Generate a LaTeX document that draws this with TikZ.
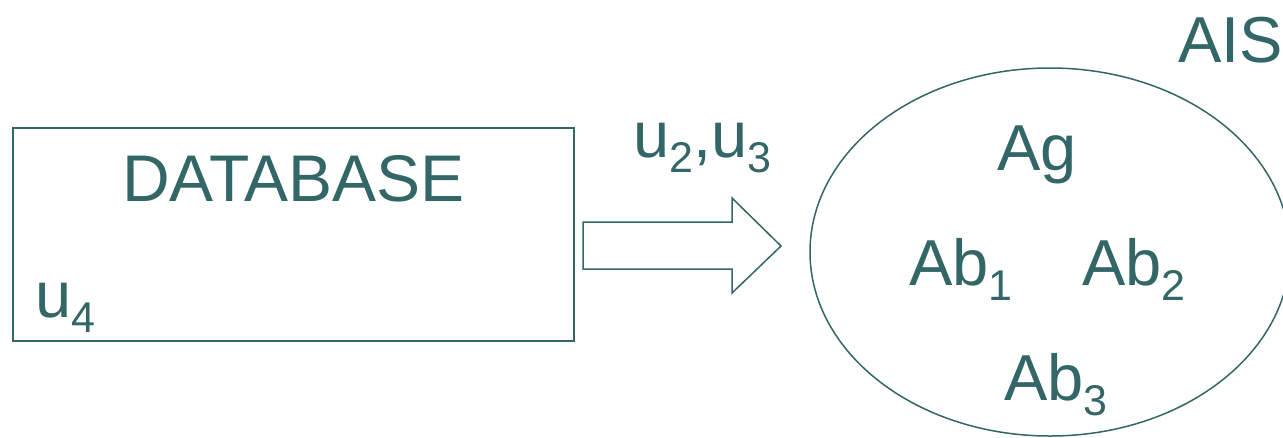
\documentclass[tikz,border=0pt]{standalone}
\usepackage{fontspec}
\setmainfont{Liberation Sans}
\definecolor{aiscol}{HTML}{336666}
\newcommand\sbx[1]{\raisebox{-15pt}{\fontsize{43}{50}\selectfont #1}}
\begin{document}
\begin{tikzpicture}[x=1pt,y=-1pt,
  every node/.style={inner sep=0pt,outer sep=0pt,text=aiscol,anchor=base west},
  big/.style={font=\fontsize{65}{78}\selectfont},
  line/.style={draw=aiscol,line width=1.5pt,line join=miter}]
\useasboundingbox (0,0) rectangle (1283,437);
% database box
\draw[line] (13,128) rectangle (574,341);
\node[big,anchor=base,font=\fontsize{66}{78}\selectfont] (db) at (293.5,201) {DATABASE};
\node[big] (u4) at (35,317) {u\sbx{4}};
% block arrow
\draw[line] (583,222) -- (732,222) -- (732,198) -- (781,246) -- (732,293) -- (732,269) -- (583,269) -- cycle;
\node[big] (u23) at (633,157) {u\sbx{2},u\sbx{3}};
% AIS ellipse
\draw[line] (1050,252) ellipse [x radius=240, y radius=184];
\node[big] (ais) at (1178,62) {AIS};
\node[big] (ag) at (997,170) {Ag};
\node[big] (ab1) at (909,285) {Ab\sbx{1}};
\node[big] (ab2) at (1082,285) {Ab\sbx{2}};
\node[big] (ab3) at (1004,400) {Ab\sbx{3}};
\end{tikzpicture}
\end{document}
